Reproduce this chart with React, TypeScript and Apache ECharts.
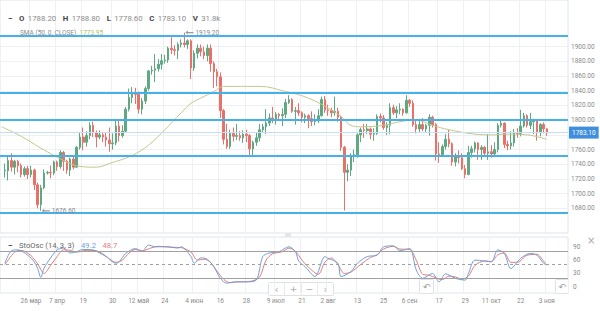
import React, { useEffect, useRef } from 'react';
import * as echarts from 'echarts';

const startDate = '2021-03-15';
const slotCount = 174;

// [open, close, low, high] per trading day from 2021-03-15
const ohlc: (number[] | null)[] = [
  null,
  [1731, 1732, 1722, 1741], [1731, 1745, 1718, 1750], [1745, 1736, 1730, 1755], [1736, 1744, 1726, 1746],
  [1744, 1738, 1729, 1746], [1738, 1726, 1722, 1741], [1726, 1734, 1723, 1737], [1734, 1726, 1720, 1738],
  [1726, 1732, 1722, 1738], [1732, 1712, 1705, 1734], [1712, 1685, 1680, 1715], [1685, 1708, 1676.6, 1712],
  [1708, 1728, 1706, 1733], [1728, 1729, 1726, 1731], [1729, 1728, 1721, 1738], [1728, 1743, 1725, 1745],
  [1743, 1737, 1731, 1745], [1737, 1756, 1734, 1759], [1756, 1744, 1731, 1758], [1744, 1732, 1727, 1746],
  [1732, 1747, 1724, 1749], [1747, 1736, 1733, 1750], [1736, 1763, 1735, 1765], [1763, 1777, 1760, 1784],
  [1777, 1770, 1759, 1790], [1770, 1779, 1764, 1785], [1779, 1793, 1774, 1797], [1793, 1783, 1777, 1798],
  [1783, 1777, 1763, 1786], [1777, 1780, 1774, 1786], [1780, 1777, 1770, 1783], [1777, 1773, 1764, 1784],
  [1773, 1768, 1757, 1790], [1768, 1769, 1760, 1782], [1769, 1792, 1766, 1799], [1792, 1779, 1771, 1799],
  [1779, 1785, 1776, 1793], [1785, 1815, 1783, 1818], [1815, 1831, 1812, 1843], [1831, 1836, 1823, 1845],
  [1836, 1835, 1822, 1844], [1835, 1815, 1809, 1839], [1815, 1826, 1808, 1830], [1826, 1843, 1822, 1846],
  [1843, 1867, 1840, 1868], [1867, 1868, 1862, 1874], [1868, 1870, 1852, 1890], [1870, 1876, 1866, 1883],
  [1876, 1881, 1869, 1890], [1881, 1882, 1877, 1889], [1882, 1898, 1878, 1900], [1898, 1896, 1890, 1913],
  [1896, 1895, 1888, 1902], [1895, 1903, 1883, 1906], [1903, 1905, 1899, 1910], [1905, 1903, 1899, 1919.2],
  [1903, 1908, 1897, 1910], [1908, 1871, 1856, 1910], [1871, 1891, 1867, 1895], [1891, 1898, 1884, 1903],
  [1898, 1893, 1887, 1903], [1893, 1888, 1883, 1900], [1888, 1898, 1880, 1903], [1898, 1877, 1866, 1903],
  [1877, 1866, 1844, 1880], [1866, 1859, 1846, 1870], [1859, 1813, 1803, 1865], [1813, 1774, 1767, 1815],
  [1774, 1764, 1761, 1795], [1764, 1782, 1761, 1787], [1782, 1778, 1771, 1790], [1778, 1779, 1773, 1795],
  [1779, 1776, 1772, 1785], [1776, 1781, 1769, 1786], [1781, 1779, 1770, 1787], [1779, 1761, 1751, 1781],
  [1761, 1770, 1750, 1772], [1770, 1776, 1765, 1783], [1776, 1787, 1771, 1795], [1787, 1791, 1784, 1795],
  [1791, 1796, 1781, 1815], [1796, 1803, 1792, 1809], [1803, 1802, 1796, 1818], [1802, 1808, 1794, 1811],
  [1808, 1806, 1799, 1810], [1806, 1808, 1792, 1816], [1808, 1824, 1803, 1829], [1824, 1828, 1822, 1834],
  [1828, 1812, 1810, 1830], [1812, 1813, 1794, 1818], [1813, 1810, 1806, 1823], [1810, 1804, 1797, 1812],
  [1804, 1806, 1796, 1809], [1806, 1802, 1789, 1808], [1802, 1798, 1792, 1812], [1798, 1799, 1793, 1808],
  [1799, 1806, 1796, 1815], [1806, 1828, 1805, 1832], [1828, 1814, 1810, 1833], [1814, 1813, 1806, 1821],
  [1813, 1810, 1804, 1817], [1810, 1812, 1806, 1832], [1812, 1804, 1798, 1817], [1804, 1763, 1758, 1806],
  [1763, 1729, 1677, 1765], [1729, 1732, 1717, 1740], [1732, 1752, 1724, 1755], [1752, 1753, 1743, 1760],
  [1753, 1780, 1749, 1782], [1780, 1787, 1770, 1790], [1787, 1786, 1776, 1795], [1786, 1788, 1781, 1795],
  [1788, 1781, 1774, 1790], [1781, 1782, 1772, 1789], [1782, 1805, 1780, 1808], [1805, 1803, 1797, 1809],
  [1803, 1790, 1787, 1807], [1790, 1793, 1780, 1797], [1793, 1817, 1781, 1823], [1817, 1810, 1807, 1821],
  [1810, 1814, 1803, 1819], [1814, 1815, 1808, 1823], [1815, 1810, 1806, 1816], [1810, 1827, 1809, 1834],
  [1827, 1823, 1818, 1829], [1823, 1794, 1791, 1827], [1794, 1788, 1782, 1799], [1788, 1794, 1784, 1800],
  [1794, 1788, 1785, 1803], [1788, 1793, 1783, 1795], [1793, 1804, 1779, 1808], [1804, 1794, 1790, 1806],
  [1794, 1754, 1745, 1796], [1754, 1753, 1742, 1770], [1753, 1764, 1751, 1767], [1764, 1774, 1760, 1781],
  [1774, 1768, 1763, 1787], [1768, 1743, 1738, 1770], [1743, 1750, 1737, 1755], [1750, 1749, 1741, 1759],
  [1749, 1734, 1732, 1755], [1734, 1726, 1721, 1739], [1726, 1756, 1725, 1765], [1756, 1761, 1749, 1765],
  [1761, 1769, 1756, 1771], [1769, 1760, 1746, 1770], [1760, 1763, 1746, 1766], [1763, 1755, 1751, 1765],
  [1755, 1757, 1746, 1781], [1757, 1754, 1749, 1766], [1754, 1760, 1750, 1770], [1760, 1793, 1756, 1796],
  [1793, 1796, 1790, 1800], [1796, 1767, 1762, 1797], [1767, 1765, 1759, 1772], [1765, 1769, 1760, 1785],
  [1769, 1783, 1764, 1788], [1783, 1782, 1776, 1789], [1782, 1792, 1778, 1814], [1792, 1806, 1790, 1810],
  [1806, 1793, 1790, 1808], [1793, 1798, 1788, 1810], [1798, 1799, 1781, 1802], [1799, 1783, 1772, 1800],
  [1783, 1794, 1778, 1796], [1794, 1788.2, 1782, 1797], [1788.2, 1783.1, 1778.6, 1788.8],
];

// SMA(50) read at sample bars
const smaIdx = [0, 6, 12, 16, 20, 24, 29, 33, 40, 45, 50, 55, 58, 61, 65, 68, 79, 87, 94, 101, 104, 107, 110, 117, 122, 127, 132, 137, 145, 150, 155, 161, 167];
const smaVals = [1791, 1778, 1762, 1752, 1743, 1737, 1736, 1741, 1752, 1766, 1787, 1810, 1823, 1830, 1839, 1846, 1846, 1839, 1830, 1814, 1805, 1793, 1791, 1793, 1798, 1800, 1793, 1787, 1781, 1780, 1781, 1780, 1773.95];

// Stochastic %K (blue) and %D (red)
const kIdx = [1, 3, 5, 8, 10, 11, 12, 13, 15, 17, 19, 21, 23, 25, 28, 30, 32, 35, 36, 38, 41, 42, 43, 45, 47, 51, 54, 55, 58, 59, 61, 63, 65, 67, 69, 71, 75, 78, 80, 82, 85, 88, 90, 91, 93, 96, 99, 100, 103, 104, 107, 109, 112, 115, 117, 120, 122, 125, 127, 129, 132, 134, 136, 139, 142, 143, 145, 148, 150, 152, 154, 156, 159, 162, 164, 166, 167];
const kVals = [53, 81, 83, 71, 56, 42, 21, 42, 65, 83, 87, 76, 79, 84, 83, 76, 68, 53, 56, 75, 86, 83, 79, 94, 90, 90, 87, 90, 68, 53, 65, 62, 45, 19, 8, 11, 11, 15, 68, 76, 79, 90, 79, 58, 45, 23, 68, 64, 53, 23, 34, 53, 68, 71, 90, 92, 81, 86, 38, 19, 30, 11, 29, 19, 15, 30, 60, 58, 56, 83, 75, 41, 64, 75, 71, 53, 49.2];
const dIdx = [1, 4, 6, 9, 11, 13, 15, 17, 19, 21, 23, 26, 29, 31, 33, 35, 37, 39, 41, 43, 46, 48, 52, 55, 58, 60, 62, 64, 66, 68, 70, 72, 76, 79, 81, 83, 86, 88, 90, 92, 94, 97, 99, 101, 103, 105, 107, 110, 113, 115, 117, 120, 122, 125, 127, 129, 131, 133, 135, 137, 139, 141, 143, 145, 148, 150, 152, 154, 156, 158, 161, 164, 166, 167];
const dVals = [50, 78, 82, 70, 52, 30, 48, 68, 83, 82, 78, 82, 81, 74, 63, 55, 60, 76, 84, 81, 88, 91, 89, 88, 78, 60, 62, 55, 35, 17, 9, 11, 12, 22, 60, 74, 79, 87, 80, 60, 44, 28, 55, 65, 50, 30, 33, 50, 66, 72, 85, 91, 85, 84, 60, 28, 26, 20, 16, 24, 22, 17, 24, 48, 58, 57, 72, 76, 55, 55, 71, 73, 58, 48.7];

// Horizontal levels
const levels = [1915, 1837, 1800, 1751, 1674];
const lastClose = 1783.1;

// Axis labels
const tickDates = ['2021-03-26', '2021-04-07', '2021-04-19', '2021-04-30', '2021-05-12', '2021-05-24', '2021-06-04', '2021-06-16', '2021-06-28', '2021-07-09', '2021-07-21', '2021-08-02', '2021-08-13', '2021-08-25', '2021-09-06', '2021-09-17', '2021-09-29', '2021-10-11', '2021-10-22', '2021-11-03'];
const tickLabels = ['26 мар', '7 апр', '19', '30', '12 май', '24', '4 июн', '16', '28', '9 июл', '21', '2 авг', '13', '25', '6 сен', '17', '29', '11 окт', '22', '3 ноя'];
const priceGrid = [1680, 1700, 1720, 1740, 1760, 1780, 1800, 1820, 1840, 1860, 1880, 1900];
const priceLabels = [1680, 1700, 1720, 1740, 1760, 1800, 1820, 1840, 1860, 1880, 1900];
const oscTicks = [0, 30, 60, 90];

function weekdays(start: string, n: number): string[] {
  const out: string[] = [];
  const d = new Date(start + 'T00:00:00Z');
  while (out.length < n) {
    const w = d.getUTCDay();
    if (w !== 0 && w !== 6) out.push(d.toISOString().slice(0, 10));
    d.setUTCDate(d.getUTCDate() + 1);
  }
  return out;
}

export default function App() {
  const ref = useRef<HTMLDivElement>(null);
  useEffect(() => {
    if (!ref.current) return;
    const chart = echarts.init(ref.current, undefined, { renderer: 'svg' });
    const cats = weekdays(startDate, slotCount);
    const candle = cats.map((_, i) => (ohlc[i] ? ohlc[i] : '-'));
    const isTick = (_i: number, v: string) => tickDates.indexOf(v) >= 0;
    const gridLine = { color: '#eef1f4', width: 1 };
    const axisFont = { fontSize: 6.5, color: '#8a8a8a', fontFamily: 'Roboto' };
    const blue = '#45b0ea';

    const levelLines: any[] = levels.map((v) => ({ yAxis: v, lineStyle: { color: blue, width: 2, type: 'solid' }, label: { show: false } }));
    levelLines.push({
      yAxis: lastClose,
      lineStyle: { color: '#c4def3', width: 1, type: 'solid' },
      label: {
        show: true, position: 'end', formatter: lastClose.toFixed(2), distance: 1,
        backgroundColor: '#3f8fdc', color: '#fff', fontSize: 6.5, fontFamily: 'Roboto', padding: [3, 3, 2, 3],
      },
    });

    const option: any = {
      animation: false,
      backgroundColor: '#ffffff',
      grid: [
        { left: 0, right: 32, top: 0, height: 233, show: true, borderColor: '#dfe5ec', borderWidth: 1 },
        { left: 0, right: 32, top: 237, height: 56, show: true, borderColor: '#dfe5ec', borderWidth: 1 },
      ],
      xAxis: [
        {
          type: 'category', data: cats, gridIndex: 0, boundaryGap: true,
          axisLine: { show: false }, axisTick: { show: false }, axisLabel: { show: false },
          splitLine: { show: true, interval: isTick, lineStyle: gridLine },
        },
        {
          type: 'category', data: cats, gridIndex: 1, boundaryGap: true,
          axisLine: { show: false }, axisTick: { show: false },
          axisLabel: {
            show: true, interval: isTick, margin: 4, ...axisFont,
            formatter: (v: string) => tickLabels[tickDates.indexOf(v)] || '',
          },
          splitLine: { show: true, interval: isTick, lineStyle: gridLine },
        },
      ],
      yAxis: [
        {
          type: 'value', gridIndex: 0, position: 'right', min: 1646.4, max: 1963.6,
          axisLine: { show: false },
          axisTick: { show: false, customValues: priceGrid },
          axisLabel: { customValues: priceLabels, margin: 3, formatter: (v: number) => v.toFixed(2), ...axisFont },
          splitLine: { show: true, lineStyle: gridLine },
        },
        {
          type: 'value', gridIndex: 1, position: 'right', min: -14, max: 112,
          axisLine: { show: false },
          axisTick: { show: false, customValues: oscTicks },
          axisLabel: { customValues: oscTicks, margin: 5, ...axisFont },
          splitLine: { show: false },
        },
      ],
      series: [
        {
          type: 'candlestick', xAxisIndex: 0, yAxisIndex: 0, data: candle, barWidth: '62%',
          itemStyle: { color: '#5ea981', color0: '#e8716a', borderColor: '#5ea981', borderColor0: '#e8716a', borderWidth: 1 },
          markLine: { silent: true, symbol: ['none', 'none'], data: levelLines },
          markPoint: {
            silent: true,
            symbol: 'path://M0,3 L3,0 L3,2 L10,2 L10,4 L3,4 L3,6 Z',
            symbolSize: [8, 4],
            symbolOffset: [5, 0],
            itemStyle: { color: '#9a9a9a' },
            label: { show: true, position: 'right', distance: 2, fontSize: 6.5, color: '#8a8a8a', fontFamily: 'Roboto' },
            data: [
              { coord: [cats[56], 1919.2], value: 1919.2, label: { formatter: '1919.20' } },
              { coord: [cats[12], 1676.6], value: 1676.6, label: { formatter: '1676.60' } },
            ],
          },
        },
        {
          type: 'line', xAxisIndex: 0, yAxisIndex: 0, showSymbol: false, smooth: 0.4,
          data: smaIdx.map((i, k) => [cats[i], smaVals[k]]),
          lineStyle: { color: '#c2c78c', width: 1 },
        },
        {
          type: 'line', xAxisIndex: 1, yAxisIndex: 1, showSymbol: false, smooth: 0.3,
          data: dIdx.map((i, k) => [cats[i], dVals[k]]),
          lineStyle: { color: '#e07d7a', width: 1 },
        },
        {
          type: 'line', xAxisIndex: 1, yAxisIndex: 1, showSymbol: false, smooth: 0.3,
          data: kIdx.map((i, k) => [cats[i], kVals[k]]),
          lineStyle: { color: '#709fd8', width: 1 },
          markLine: {
            silent: true, symbol: ['none', 'none'], label: { show: false },
            data: [
              { yAxis: 80, lineStyle: { color: '#a0a0a0', width: 1, type: 'solid' } },
              { yAxis: 20, lineStyle: { color: '#a0a0a0', width: 1, type: 'solid' } },
              { yAxis: 50, lineStyle: { color: '#a0a0a0', width: 1, type: [3, 3] } },
            ],
          },
        },
      ],
      graphic: [
        {
          type: 'text', left: 8, top: 12, z: 100,
          style: {
            text: '{d|−}  {b|O} {v|1788.20}  {b|H} {v|1788.80}  {b|L} {v|1778.60}  {b|C} {v|1783.10}  {b|V} {v|31.8k}',
            rich: {
              d: { fontSize: 8, fontWeight: 'bold', fill: '#444', fontFamily: 'Roboto' },
              b: { fontSize: 7.8, fontWeight: 'bold', fill: '#444', fontFamily: 'Roboto' },
              v: { fontSize: 7.8, fill: '#8c8c8c', fontFamily: 'Roboto' },
            },
          },
        },
        {
          type: 'text', left: 20, top: 27, z: 100,
          style: {
            text: '{a|SMA (50, 0, CLOSE)} {g|1773.95}',
            rich: {
              a: { fontSize: 6.5, fill: '#8c8c8c', fontFamily: 'Roboto' },
              g: { fontSize: 6.5, fill: '#b4c16a', fontFamily: 'Roboto' },
            },
          },
        },
        {
          type: 'text', left: 8, top: 239, z: 100,
          style: {
            text: '{d|−}  {a|StoOsc (14, 3, 3)}  {k|49.2}  {r|48.7}',
            rich: {
              d: { fontSize: 8, fontWeight: 'bold', fill: '#444', fontFamily: 'Roboto' },
              a: { fontSize: 7.6, fill: '#666', fontFamily: 'Roboto' },
              k: { fontSize: 7.6, fill: '#709fd8', fontFamily: 'Roboto' },
              r: { fontSize: 7.6, fill: '#e07d7a', fontFamily: 'Roboto' },
            },
          },
        },
        { type: 'rect', left: 285, top: 233, z: 100, shape: { width: 6, height: 4 }, style: { fill: '#e3e6ea' } },
        { type: 'text', left: 587, top: 235, z: 100, style: { text: '×', fontSize: 10, fill: '#aaa', fontFamily: 'DejaVu Sans' } },
        {
          type: 'group', left: 268, top: 280, z: 100,
          children: [
            { type: 'rect', shape: { x: 0, y: 0, width: 65, height: 13, r: 1 }, style: { fill: '#fff', stroke: '#dde2e8', lineWidth: 1 } },
            { type: 'line', shape: { x1: 16, y1: 0, x2: 16, y2: 13 }, style: { stroke: '#e6e9ed' } },
            { type: 'line', shape: { x1: 33, y1: 0, x2: 33, y2: 13 }, style: { stroke: '#e6e9ed' } },
            { type: 'line', shape: { x1: 49, y1: 0, x2: 49, y2: 13 }, style: { stroke: '#e6e9ed' } },
            { type: 'text', x: 8, y: 6.5, style: { text: '‹', fontSize: 10, fill: '#aaa', align: 'center', verticalAlign: 'middle', fontFamily: 'DejaVu Sans' } },
            { type: 'text', x: 25, y: 6.5, style: { text: '+', fontSize: 9, fill: '#aaa', align: 'center', verticalAlign: 'middle', fontFamily: 'DejaVu Sans' } },
            { type: 'text', x: 41, y: 6.5, style: { text: '−', fontSize: 9, fill: '#aaa', align: 'center', verticalAlign: 'middle', fontFamily: 'DejaVu Sans' } },
            { type: 'text', x: 57, y: 6.5, style: { text: '›', fontSize: 10, fill: '#aaa', align: 'center', verticalAlign: 'middle', fontFamily: 'DejaVu Sans' } },
          ],
        },
        {
          type: 'group', left: 419, top: 279, z: 100,
          children: [
            { type: 'rect', shape: { x: 0, y: 0, width: 14, height: 14, r: 1 }, style: { fill: '#fff', stroke: '#dde2e8', lineWidth: 1 } },
            { type: 'text', x: 7, y: 7, style: { text: '↶', fontSize: 9, fill: '#999', align: 'center', verticalAlign: 'middle', fontFamily: 'DejaVu Sans' } },
          ],
        },
        {
          type: 'group', left: 555, top: 279, z: 100,
          children: [
            { type: 'rect', shape: { x: 0, y: 0, width: 13, height: 14, r: 1 }, style: { fill: '#fff', stroke: '#dde2e8', lineWidth: 1 } },
            { type: 'text', x: 6.5, y: 7, style: { text: '↶', fontSize: 9, fill: '#999', align: 'center', verticalAlign: 'middle', fontFamily: 'DejaVu Sans' } },
          ],
        },
      ],
    };
    chart.setOption(option);
    return () => chart.dispose();
  }, []);
  return <div ref={ref} style={{ position: 'fixed', left: 0, top: 0, width: 600, height: 311 }} />;
}
